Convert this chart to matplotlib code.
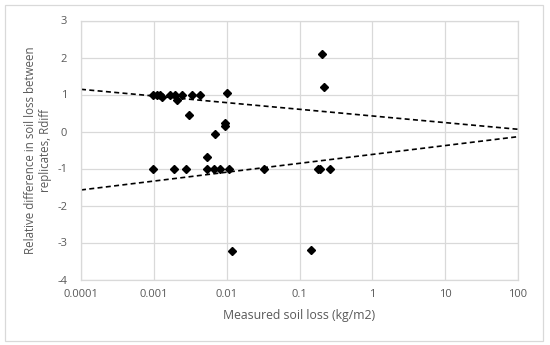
import matplotlib
matplotlib.use("Agg")
import matplotlib.pyplot as plt
from matplotlib.patches import Rectangle
import numpy as np

# Measured soil loss (kg/m2) and Rdiff
soil_loss = [0.00097, 0.00112, 0.00122, 0.0013, 0.00167, 0.00198, 0.00206, 0.00247,
             0.00338, 0.00427, 0.0100, 0.00301, 0.0070, 0.0096, 0.0096, 0.0054,
             0.204, 0.22,
             0.00097, 0.00191, 0.00277, 0.00538, 0.00664, 0.0082, 0.01067, 0.0323,
             0.182, 0.192, 0.261,
             0.01186, 0.146]
rdiff = [1.0, 1.0, 1.0, 0.93, 1.0, 1.0, 0.86, 1.0,
         1.0, 0.98, 1.04, 0.45, -0.06, 0.23, 0.16, -0.70,
         2.1, 1.21,
         -1.0, -1.0, -1.0, -1.0, -1.0, -1.0, -1.0, -1.0,
         -1.0, -1.0, -1.0,
         -3.24, -3.19]

# Trend lines (endpoints)
trend_x = [0.0001, 100]
upper_trend = [1.14, 0.06]
lower_trend = [-1.58, -0.14]

x_ticks = [0.0001, 0.001, 0.01, 0.1, 1, 10, 100]
x_ticklabels = ["0.0001", "0.001", "0.01", "0.1", "1", "10", "100"]
y_ticks = [-4, -3, -2, -1, 0, 1, 2, 3]
y_ticklabels = ["-4", "-3", "-2", "-1", "0", "1", "2", "3"]

plt.rcParams['font.family'] = ['Open Sans', 'DejaVu Sans']
text_color = '#595959'
grid_color = '#d9d9d9'

fig = plt.figure(figsize=(5.5, 3.45), dpi=100)
ax = fig.add_axes([81/550, 1 - 279.5/345, (518-81)/550, (279.5-20.5)/345])

ax.set_xscale('log')
ax.set_xlim(0.0001, 100)
ax.set_ylim(-4, 3)
ax.set_xticks(x_ticks)
ax.set_xticklabels(x_ticklabels)
ax.minorticks_off()
ax.set_yticks(y_ticks)
ax.set_yticklabels(y_ticklabels)
ax.grid(True, color=grid_color, linewidth=0.9)
ax.set_axisbelow(True)
for s in ax.spines.values():
    s.set_color(grid_color)
    s.set_linewidth(0.9)
ax.tick_params(length=0, labelsize=8, colors=text_color)
ax.tick_params(axis='x', pad=7)
ax.tick_params(axis='y', pad=10)

ax.plot(trend_x, upper_trend, color='black', linestyle=(0, (3, 2)), linewidth=1.2)
ax.plot(trend_x, lower_trend, color='black', linestyle=(0, (3, 2)), linewidth=1.2)
ax.plot(soil_loss, rdiff, linestyle='none', marker='D', markersize=4.2,
        color='black', clip_on=False)

ax.set_xlabel("Measured soil loss (kg/m2)", fontsize=8.8, color=text_color, labelpad=6)
ax.set_ylabel("Relative difference in soil loss between\nreplicates, Rdiff",
              fontsize=8.3, color=text_color, linespacing=1.25)
ax.yaxis.set_label_coords(-0.066, 0.5)

fig.patches.append(Rectangle((5/550, 1 - 341/345), 538/550, 336/345,
                             transform=fig.transFigure, fill=False,
                             edgecolor='#d9d9d9', linewidth=0.9))

fig.savefig("out.png", dpi=100, facecolor='white')
